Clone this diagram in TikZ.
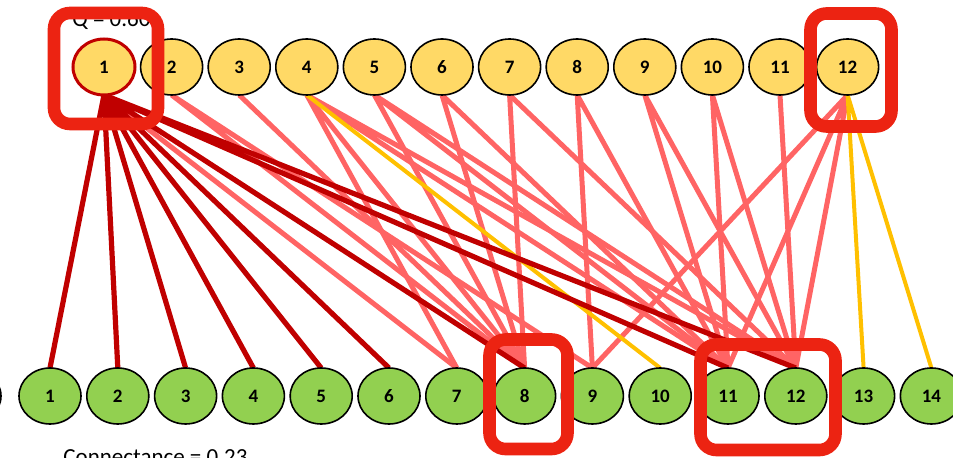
\documentclass[tikz,border=0pt]{standalone}
\usepackage{fontspec}
\setmainfont{Carlito}
\usepackage{tikz}
\usetikzlibrary{positioning,shapes.geometric,backgrounds}
\definecolor{topfill}{HTML}{FFD966}
\definecolor{botfill}{HTML}{92D050}
\definecolor{deepred}{HTML}{C00000}
\definecolor{salmon}{HTML}{FF6464}
\definecolor{amber}{HTML}{FFC000}
\definecolor{marker}{HTML}{EC2312}
\tikzstyle{hilite} = [line width=6.3pt, draw=marker, rounded corners=8pt]

\begin{document}
\begin{tikzpicture}[
			x=0.5pt, y=-0.5pt,
			uprow/.style={
					ellipse,
					draw=black,
					line width=0.8pt,
					fill=topfill,
					minimum width=31pt,
					minimum height=28pt,
					inner sep=0pt,
					outer sep=0pt,
					font=\bfseries\fontsize{9.5}{11}\selectfont,
				},
			lowrow/.style={uprow, fill=botfill},
			redlink/.style={line width=2.6pt, draw=deepred},
			pinklink/.style={line width=2.5pt, draw=salmon},
			goldlink/.style={line width=2pt, draw=amber},
		]
		\useasboundingbox (0,0) rectangle (953,458);

		% upper row
		\node[uprow, draw=deepred, line width=1.5pt] (t1) at (104,67) {1};
		\node[uprow, right=2.8pt of t1] (t2) {2};
		\node[uprow, right=2.8pt of t2] (t3) {3};
		\node[uprow, right=2.8pt of t3] (t4) {4};
		\node[uprow, right=2.8pt of t4] (t5) {5};
		\node[uprow, right=2.8pt of t5] (t6) {6};
		\node[uprow, right=2.8pt of t6] (t7) {7};
		\node[uprow, right=2.8pt of t7] (t8) {8};
		\node[uprow, right=2.8pt of t8] (t9) {9};
		\node[uprow, right=2.8pt of t9] (t10) {10};
		\node[uprow, right=2.8pt of t10] (t11) {11};
		\node[uprow, right=2.8pt of t11] (t12) {12};

		% lower row
		\node[lowrow] (b1) at (50,396) {1};
		\node[lowrow, left=9pt of b1] (b0) {};
		\node[lowrow, right=2.9pt of b1] (b2) {2};
		\node[lowrow, right=2.9pt of b2] (b3) {3};
		\node[lowrow, right=2.9pt of b3] (b4) {4};
		\node[lowrow, right=2.9pt of b4] (b5) {5};
		\node[lowrow, right=2.9pt of b5] (b6) {6};
		\node[lowrow, right=2.9pt of b6] (b7) {7};
		\node[lowrow, right=2.9pt of b7] (b8) {8};
		\node[lowrow, right=2.9pt of b8] (b9) {9};
		\node[lowrow, right=2.9pt of b9] (b10) {10};
		\node[lowrow, right=2.9pt of b10] (b11) {11};
		\node[lowrow, right=2.9pt of b11] (b12) {12};
		\node[lowrow, right=2.9pt of b12] (b13) {13};
		\node[lowrow, right=2.9pt of b13] (b14) {14};

		% captions
		\node[anchor=base west, inner sep=0pt, font=\fontsize{11.5}{14}\selectfont] (qval) at (72,27) {Q = 0.60};
		\node[anchor=base west, inner sep=0pt, font=\fontsize{11.5}{14}\selectfont] (conn) at (63,465) {Connectance = 0.23};

		% links
		\begin{scope}[on background layer]
			\draw[pinklink] (t1.south) -- (b7.north);
			\draw[pinklink] (t2.south) -- (b8.north) (t2.south) -- (b9.north);
			\draw[pinklink] (t3.south) -- (b8.north);
			\draw[pinklink] (t4.south) -- (b7.north) (t4.south) -- (b8.north) (t4.south) -- (b11.north) (t4.south) -- (b12.north);
			\draw[pinklink] (t5.south) -- (b8.north) (t5.south) -- (b11.north) (t5.south) -- (b12.north);
			\draw[pinklink] (t6.south) -- (b8.north) (t6.south) -- (b11.north);
			\draw[pinklink] (t7.south) -- (b8.north) (t7.south) -- (b12.north);
			\draw[pinklink] (t8.south) -- (b9.north) (t8.south) -- (b11.north);
			\draw[pinklink] (t9.south) -- (b11.north) (t9.south) -- (b12.north);
			\draw[pinklink] (t10.south) -- (b11.north) (t10.south) -- (b12.north);
			\draw[pinklink] (t11.south) -- (b12.north);
			\draw[pinklink] (t12.south) -- (b9.north) (t12.south) -- (b11.north) (t12.south) -- (b12.north);
			\draw[goldlink] (t4.south) -- (b10.north);
			\draw[goldlink] (t12.south) -- (b13.north) (t12.south) -- (b14.north);
			\draw[redlink] (t1.south) -- (b1.north) (t1.south) -- (b2.north) (t1.south) -- (b3.north)
				(t1.south) -- (b4.north) (t1.south) -- (b5.north) (t1.south) -- (b6.north)
				(t1.south) -- (b8.north) (t1.south) -- (b11.north) (t1.south) -- (b12.north);
		\end{scope}

		% highlight frames
		\draw[hilite] (54,13) rectangle (158,124);
		\draw[hilite] (810.5,13.5) rectangle (891.5,126.5);
		\draw[hilite] (489.5,339.5) rectangle (567.5,449);
		\draw[hilite] (700.5,344.5) rectangle (835.5,450);
	\end{tikzpicture}
\end{document}
